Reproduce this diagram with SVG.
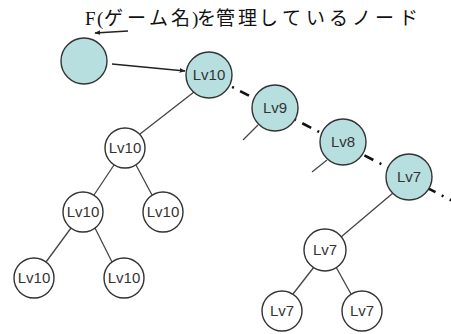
<svg xmlns="http://www.w3.org/2000/svg" width="451" height="334" viewBox="0 0 451 334">
<defs>
<marker id="ah" viewBox="0 0 10 10" refX="9" refY="5" markerWidth="6" markerHeight="6" orient="auto" markerUnits="userSpaceOnUse">
<path d="M0,1 L10,5 L0,9 z" fill="#222"/>
</marker>
<style>
.t{font-family:"Liberation Serif","Noto Sans CJK JP",serif;font-size:19px;fill:#111}
.blue{fill:#b7dfe0;stroke:#333;stroke-width:1.4}
.white{fill:#fff;stroke:#333;stroke-width:1.4}
.lb{font-family:"Liberation Sans",Arial,sans-serif;font-size:15px;fill:#333;text-anchor:middle}
.e{stroke:#444;stroke-width:1.3;fill:none}
.dd{stroke:#111;stroke-width:2.6;fill:none;stroke-dasharray:10 7 2 7 2 7}
.ar{stroke:#222;stroke-width:1.4;fill:none}
</style>
</defs>
<rect width="451" height="334" fill="#fff"/>
<text class="t" x="85 97 104 127 149 171 192 197 216 238 259 282 306 329 352 375 399" y="25">F(ゲーム名)を管理しているノード</text>
<g id="connectors">
<path class="dd" d="M209,75 L470,210"/>
<line class="ar" x1="128" y1="31" x2="95" y2="33" marker-end="url(#ah)"/>
<line class="ar" x1="112" y1="64" x2="185" y2="71" marker-end="url(#ah)"/>
<line class="e" x1="194" y1="92" x2="140" y2="134"/>
<line class="e" x1="114" y1="165" x2="94" y2="195"/>
<line class="e" x1="136" y1="165" x2="152" y2="195"/>
<line class="e" x1="71" y1="228" x2="46" y2="262"/>
<line class="e" x1="95" y1="228" x2="112" y2="262"/>
<line class="e" x1="258" y1="125" x2="243" y2="140"/>
<line class="e" x1="327" y1="160" x2="312" y2="172"/>
<line class="e" x1="393" y1="193" x2="341" y2="237"/>
<line class="e" x1="314" y1="267" x2="293" y2="294"/>
<line class="e" x1="336" y1="267" x2="351" y2="294"/>
</g>
<g id="fnode"><circle class="blue" cx="84" cy="61" r="23"/></g>
<g id="b10"><circle class="blue" cx="209" cy="75" r="23"/><text class="lb" x="209" y="80">Lv10</text></g>
<g id="b9"><circle class="blue" cx="275" cy="108" r="23"/><text class="lb" x="275" y="113">Lv9</text></g>
<g id="b8"><circle class="blue" cx="343" cy="142" r="23"/><text class="lb" x="343" y="147">Lv8</text></g>
<g id="b7"><circle class="blue" cx="409" cy="177" r="23"/><text class="lb" x="409" y="182">Lv7</text></g>
<g id="w10a"><circle class="white" cx="125" cy="148" r="20"/><text class="lb" x="125" y="153">Lv10</text></g>
<g id="w10b"><circle class="white" cx="83" cy="212" r="20"/><text class="lb" x="83" y="217">Lv10</text></g>
<g id="w10c"><circle class="white" cx="163" cy="212" r="20"/><text class="lb" x="163" y="217">Lv10</text></g>
<g id="w10d"><circle class="white" cx="34" cy="278" r="20"/><text class="lb" x="34" y="283">Lv10</text></g>
<g id="w10e"><circle class="white" cx="124" cy="278" r="20"/><text class="lb" x="124" y="283">Lv10</text></g>
<g id="w7a"><circle class="white" cx="325" cy="250" r="21"/><text class="lb" x="325" y="255">Lv7</text></g>
<g id="w7b"><circle class="white" cx="282" cy="311" r="20"/><text class="lb" x="282" y="316">Lv7</text></g>
<g id="w7c"><circle class="white" cx="362" cy="311" r="20"/><text class="lb" x="362" y="316">Lv7</text></g>
</svg>
